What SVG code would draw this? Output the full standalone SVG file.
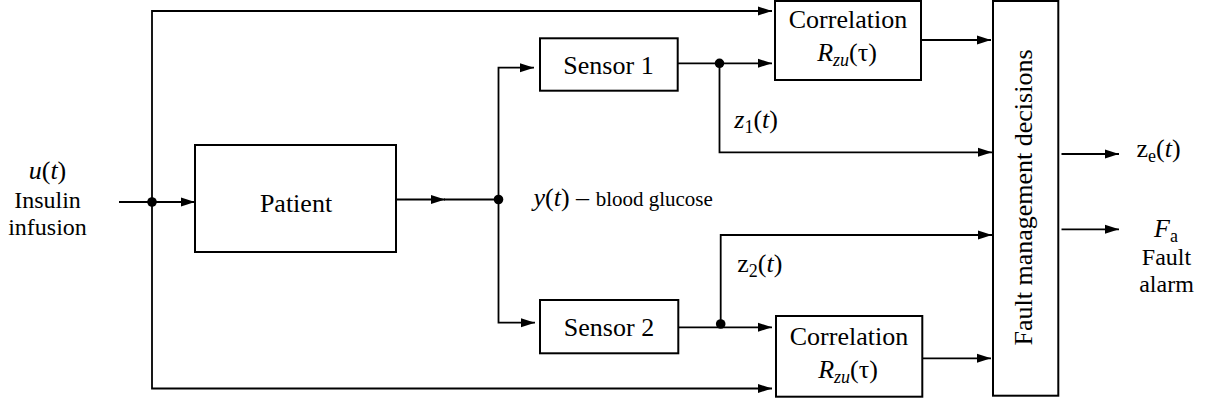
<svg xmlns="http://www.w3.org/2000/svg" width="1211" height="406" viewBox="0 0 1211 406" font-family="Liberation Serif, serif">
<style>
.box{fill:#fff;stroke:#000;stroke-width:2}
.ln{fill:none;stroke:#000;stroke-width:1.8}
text{fill:#000}
.t26{font-size:26px}
.t24{font-size:24px}
.t21{font-size:21px}
.it{font-style:italic}
.sub{font-size:18px}
</style>
<defs>
<marker id="ah" markerWidth="15" markerHeight="10" refX="14" refY="5" orient="auto" markerUnits="userSpaceOnUse">
<path d="M0,0.5 L14,5 L0,9.5 z" fill="#000"/>
</marker>
</defs>
<g id="connectors">
<path class="ln" d="M119,202 L195,202" marker-end="url(#ah)"/>
<path class="ln" d="M152,202 L152,11 L772,11" marker-end="url(#ah)"/>
<path class="ln" d="M152,202 L152,388.5 L772,388.5" marker-end="url(#ah)"/>
<path class="ln" d="M396,199.5 L445,199.5" marker-end="url(#ah)"/>
<path class="ln" d="M444,199.5 L498.5,199.5"/>
<path class="ln" d="M498.5,199.5 L498.5,67.7 L534,67.7" marker-end="url(#ah)"/>
<path class="ln" d="M498.5,199.5 L498.5,322.7 L535,322.7" marker-end="url(#ah)"/>
<path class="ln" d="M678,63.3 L772,63.3" marker-end="url(#ah)"/>
<path class="ln" d="M719.5,63.3 L719.5,152.3 L992,152.3" marker-end="url(#ah)"/>
<path class="ln" d="M678,327.3 L772,327.3" marker-end="url(#ah)"/>
<path class="ln" d="M720.7,325 L720.7,235 L992,235" marker-end="url(#ah)"/>
<path class="ln" d="M921,40 L991,40" marker-end="url(#ah)"/>
<path class="ln" d="M922,358.3 L991,358.3" marker-end="url(#ah)"/>
<path class="ln" d="M1061.5,154 L1119,154" marker-end="url(#ah)"/>
<path class="ln" d="M1061.5,229.3 L1119,229.3" marker-end="url(#ah)"/>
<circle cx="152" cy="202" r="4.8" fill="#000"/>
<circle cx="498.5" cy="199.5" r="4.8" fill="#000"/>
<circle cx="719.5" cy="63.3" r="4.8" fill="#000"/>
<circle cx="720.7" cy="324" r="4.8" fill="#000"/>
</g>
<g id="patient">
<rect class="box" x="195" y="145" width="201" height="107"/>
<text class="t26" x="296" y="211.5" text-anchor="middle" font-family="Liberation Serif">Patient</text>
</g>
<g id="sensor1">
<rect class="box" x="540" y="38.3" width="137.7" height="52.4"/>
<text class="t26" x="608.5" y="74" text-anchor="middle" font-family="Liberation Serif">Sensor 1</text>
</g>
<g id="sensor2">
<rect class="box" x="540" y="300" width="138.3" height="53.3"/>
<text class="t26" x="609" y="336" text-anchor="middle" font-family="Liberation Serif">Sensor 2</text>
</g>
<g id="correlation1">
<rect class="box" x="775" y="1" width="146" height="79"/>
<text class="t26" x="848" y="28" text-anchor="middle" font-family="Liberation Serif">Correlation</text>
<text class="t26" x="847" y="61" text-anchor="middle" font-family="Liberation Serif"><tspan class="it">R</tspan><tspan class="it sub" dy="5">zu</tspan><tspan dy="-5">(τ)</tspan></text>
</g>
<g id="correlation2">
<rect class="box" x="776" y="316" width="146.3" height="80.7"/>
<text class="t26" x="849" y="345" text-anchor="middle" font-family="Liberation Serif">Correlation</text>
<text class="t26" x="848" y="378" text-anchor="middle" font-family="Liberation Serif"><tspan class="it">R</tspan><tspan class="it sub" dy="5">zu</tspan><tspan dy="-5">(τ)</tspan></text>
</g>
<g id="fault-management">
<rect class="box" x="993" y="1" width="65.3" height="394.7"/>
<text class="t26" transform="translate(1031.5,197.5) rotate(-90)" x="0" y="0" text-anchor="middle" font-family="Liberation Serif">Fault management decisions</text>
</g>
<g id="labels" font-family="Liberation Serif">
<text class="t26" x="47.5" y="179" text-anchor="middle" font-family="Liberation Serif"><tspan class="it">u</tspan>(<tspan class="it">t</tspan>)</text>
<text class="t24" x="47.5" y="208" text-anchor="middle" font-family="Liberation Serif">Insulin</text>
<text class="t24" x="47.5" y="235" text-anchor="middle" font-family="Liberation Serif">infusion</text>
<text x="533.5" y="206" font-family="Liberation Serif"><tspan class="t26 it">y</tspan><tspan class="t26">(</tspan><tspan class="t26 it">t</tspan><tspan class="t26">) – </tspan><tspan class="t21">blood glucose</tspan></text>
<text class="t26" x="734.3" y="128.3" font-family="Liberation Serif"><tspan class="it">z</tspan><tspan class="sub" dy="5">1</tspan><tspan dy="-5">(</tspan><tspan class="it">t</tspan>)</text>
<text class="t26" x="737.3" y="271.7" font-family="Liberation Serif">z<tspan class="sub" dy="5">2</tspan><tspan dy="-5">(</tspan><tspan class="it">t</tspan>)</text>
<text class="t26" x="1136.5" y="157" font-family="Liberation Serif">z<tspan class="sub" dy="5">e</tspan><tspan dy="-5">(</tspan><tspan class="it">t</tspan>)</text>
<text class="t26" x="1166" y="237.3" text-anchor="middle" font-family="Liberation Serif"><tspan class="it">F</tspan><tspan class="sub" dy="5">a</tspan></text>
<text class="t24" x="1166.5" y="265" text-anchor="middle" font-family="Liberation Serif">Fault</text>
<text class="t24" x="1166.5" y="292.3" text-anchor="middle" font-family="Liberation Serif">alarm</text>
</g>
</svg>
